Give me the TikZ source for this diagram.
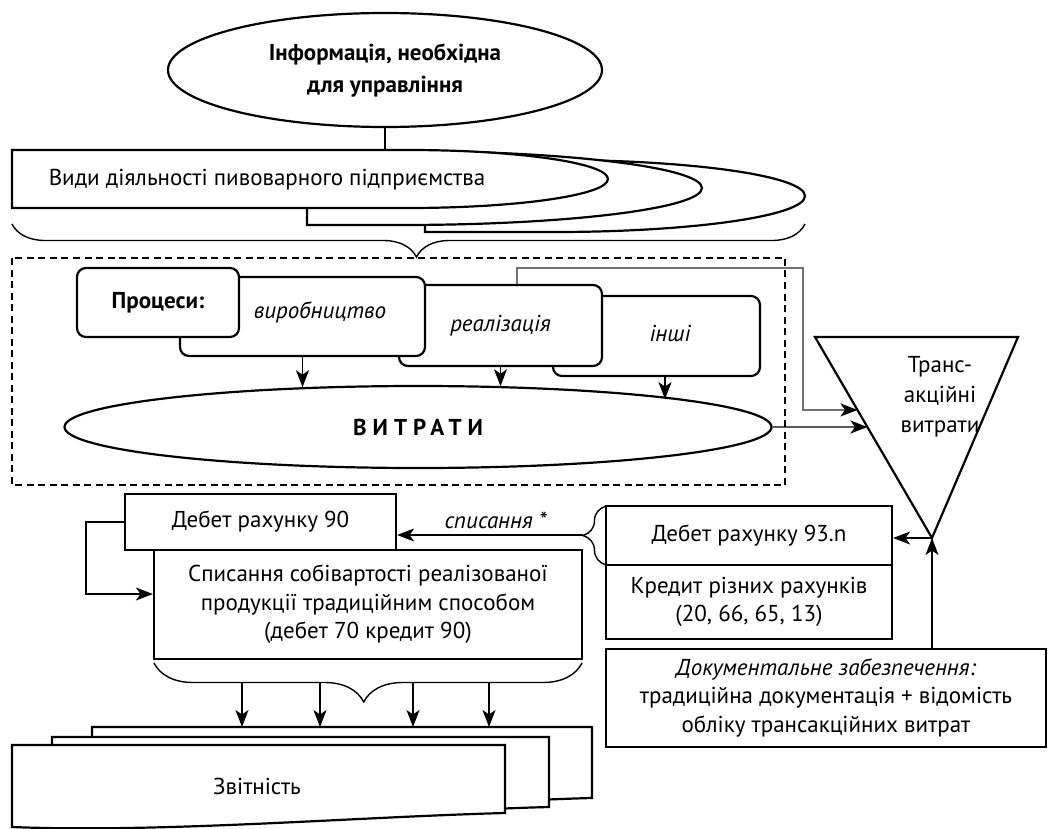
\documentclass[tikz,border=0pt]{standalone}
\usepackage{fontspec}
\setmainfont{PT Sans}
\usetikzlibrary{arrows.meta, shapes.geometric, decorations.pathreplacing, calc}

\newcommand\diagfont{\fontsize{23}{28.5}\selectfont}
% left, top, bottom, start of arc, x radius, y radius
\newcommand\tapeshape[6]{\filldraw[shapeline] (#1,#2) -- (#4,#2) arc[start angle=90, end angle=-90, x radius=#5pt, y radius=#6pt] -- (#1,#3) -- cycle;}
% left, top, right, bottom right, bottom left
\newcommand\docpage[5]{\filldraw[shapeline] (#1,#2) -- (#3,#2) -- (#3,#4) .. controls +(-150,4) and +(150,6) .. (#1,#5) -- cycle;}

\begin{document}
\begin{tikzpicture}[x=1pt, y=-1pt, >={Stealth[length=17pt, width=13pt, inset=4.5pt]},
	every node/.style={font=\diagfont},
	shapeline/.style={draw, line width=2.2pt, fill=white},
	conn/.style={line width=1.1pt},
	box/.style={shapeline, inner sep=0pt, align=center},
	procbox/.style={box, rounded corners=9pt},
	curly/.style 2 args={line width=1.4pt, decorate, decoration={brace, amplitude=#1, aspect=#2}}]
	\useasboundingbox (0,0) rectangle (1052,829);

	\node[shapeline, ellipse, minimum width=434pt, minimum height=114pt, align=center, font=\fontsize{23}{32}\selectfont\bfseries] (info) at (385,70) {Інформація, необхідна\\для управління};
	\tapeshape{425}{160}{232}{555}{250}{36}
	\tapeshape{307}{151}{225}{402}{300}{37}
	\tapeshape{12}{150}{208}{408}{200}{29}
	\node (vydy) at (267,180) {Види діяльності пивоварного підприємства};
	\coordinate (vtop) at (385,150);
	\draw[conn] (info.south) -- (vtop);
	\draw[curly={33pt}{0.49}] (805,224) -- (12,224);

	\draw[dashed, line width=1.6pt, dash pattern=on 7pt off 4.5pt] (12,258) rectangle (785,485);
	\node[procbox, minimum width=207pt, minimum height=80pt] (inshi) at (656.5,336) {};
	\node[procbox, minimum width=203pt, minimum height=81pt] (realiz) at (500.5,325.5) {\itshape реалізація};
	\node[procbox, minimum width=245pt, minimum height=79pt] (vyrob) at (302.5,316.5) {};
	\node[procbox, minimum width=162pt, minimum height=69pt, font=\diagfont\bfseries] (proc) at (158,302.5) {Процеси:};
	\node (vyrobtxt) at (320,312) {\itshape виробництво};
	\node (inshitxt) at (670,333) {\itshape інші};
	\node[shapeline, ellipse, minimum width=707pt, minimum height=82pt, font=\diagfont\bfseries\addfontfeature{LetterSpace=26}] (costs) at (418,427) {ВИТРАТИ};
	\draw[conn, ->] (vyrob.south) -- (vyrob.south |- costs.161.5);
	\draw[conn, ->] (realiz.south) -- (realiz.south |- costs.25.8);
	\draw[conn, ->] ([xshift=8.5pt]inshi.south) -- ([xshift=8.5pt]inshi.south |- costs.6.8);

	\coordinate (tl) at (815,337);
	\coordinate (tr) at (1018,337);
	\coordinate (tb) at (932,538);
	\draw[shapeline] (tl) -- (tr) -- (tb) -- cycle;
	\node[align=center, font=\fontsize{23}{30}\selectfont] (trans) at (940,397) {Транс-\\акційні\\витрати};
	\coordinate (g1) at (803,268);
	\draw[conn, black!55, -{Stealth[length=17pt, width=13pt, inset=4.5pt, color=black]}] ([xshift=16.5pt]realiz.north) |- (g1) |- ($(tl)!0.363!(tb)$);
	\draw[conn, ->] (costs.east) -- ($(tl)!0.448!(tb)$);

	\node[box, minimum width=286pt, minimum height=74pt] (kred) at (749,602) {Кредит різних рахунків\\(20, 66, 65, 13)};
	\node[box, minimum width=286pt, minimum height=59pt] (deb93) at (749,535.5) {Дебет рахунку 93.n};
	\draw[conn, ->] (tb) -- (tb -| deb93.east);
	\node[box, minimum width=440pt, minimum height=98pt] (docs) at (826,698) {\itshape Документальне забезпечення:\\традиційна документація + відомість\\обліку трансакційних витрат};
	\draw[conn, ->] (tb |- docs.north) -- (tb);
	\draw[curly={23pt}{0.5}] (606,565) -- (606,506);

	\node[box, minimum width=428pt, minimum height=109pt] (spys) at (368,604.5) {Списання собівартості реалізованої\\продукції традиційним способом\\(дебет 70 кредит 90)};
	\node[box, minimum width=271pt, minimum height=56pt] (deb90) at (260.5,522) {Дебет рахунку 90};
	\coordinate (bt) at (583,535);
	\draw[conn, ->] (bt) -- (bt -| deb90.east) node[pos=0.47, above=2pt, font=\diagfont\itshape] (writeoff) {списання *};
	\coordinate (loop) at (86,594);
	\draw[conn, ->] (deb90.west) -| (loop) -- (loop -| spys.west);
	\draw[curly={39pt}{0.51}] (582,663) -- (154,663);

	\docpage{92}{727}{592}{798}{815}
	\docpage{52}{737}{549}{807}{822}
	\docpage{12}{745}{505}{813}{827}
	\node (report) at (257,786) {Звітність};
	\foreach \x in {242,320,413,489} {
		\coordinate (s\x) at (\x,683);
		\coordinate (e\x) at (\x,727);
		\draw[conn, ->] (s\x) -- (e\x);
	}
\end{tikzpicture}
\end{document}
